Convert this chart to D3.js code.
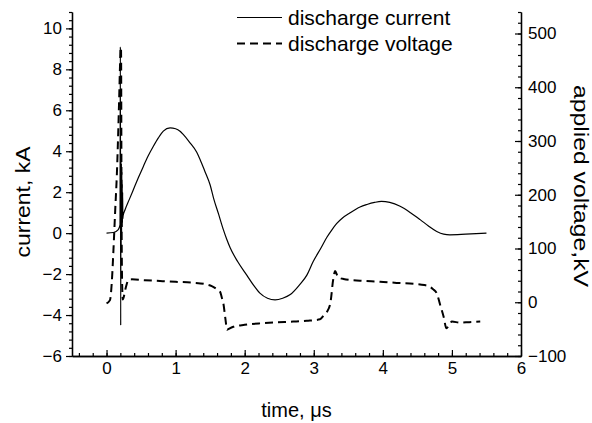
<!DOCTYPE html>
<html>
<head>
<meta charset="utf-8">
<script src="https://cdn.jsdelivr.net/npm/d3@7"></script>
<style>
  body { margin: 0; background: #fff; }
  svg { display: block; font-family: "Liberation Sans", Arial, sans-serif; }
</style>
</head>
<body>
<div id="chart"></div>
<script>
// discharge current (kA) and applied voltage (kV) against time (us)

const currentTime = [0, 0.1, 0.17, 0.195, 0.2, 0.205, 0.209, 0.212, 0.215, 0.218, 0.221, 0.224,
  0.227, 0.23, 0.233, 0.236, 0.24,
  0.268, 0.33, 0.388, 0.46, 0.533, 0.6, 0.678, 0.75, 0.822, 0.92, 1.0, 1.064, 1.11, 1.2, 1.306,
  1.354, 1.42, 1.5, 1.55, 1.62, 1.691, 1.74, 1.788, 1.9, 2.03, 2.13, 2.22, 2.33, 2.44, 2.55, 2.66,
  2.8, 2.9, 2.99, 3.1, 3.19, 3.26, 3.33, 3.42, 3.52, 3.67, 3.77, 3.88, 3.98, 4.1, 4.25, 4.4, 4.54,
  4.66, 4.78, 4.88, 4.97, 5.2, 5.5];
const currentKA = [0, 0.03, 0.17, 0.4, 9.1, -4.5, 3.6, -0.8, 3.4, 0.0, 3.0, 0.3,
  2.4, 0.5, 2.0, 0.7, 0.85,
  1.14, 1.65, 2.12, 2.7, 3.26, 3.75, 4.24, 4.65, 4.98, 5.14, 5.1, 4.98, 4.82, 4.45, 3.95,
  3.6, 3.05, 2.35, 1.7, 0.95, 0.17, -0.3, -0.7, -1.4, -2.05, -2.55, -2.93, -3.18, -3.26, -3.18, -3.0,
  -2.5, -2.05, -1.4, -0.75, -0.2, 0.15, 0.46, 0.75, 0.98, 1.28, 1.4, 1.5, 1.55, 1.5, 1.31, 1.0, 0.66,
  0.35, 0.08, -0.05, -0.08, -0.05, 0];

const voltageTime = [0, 0.05, 0.075, 0.1, 0.125, 0.15, 0.17, 0.185, 0.195, 0.205, 0.21, 0.218, 0.225,
  0.235, 0.245, 0.28, 0.32, 0.365, 0.55, 0.774, 1.0, 1.257, 1.45, 1.523, 1.6, 1.643, 1.67, 1.691,
  1.72, 1.745, 1.76, 1.836, 2.0, 2.22, 2.45, 2.7, 2.9, 3.09, 3.14, 3.19, 3.24, 3.28, 3.31, 3.35,
  3.43, 3.67, 3.96, 4.2, 4.49, 4.6, 4.68, 4.73, 4.78, 4.83, 4.88, 4.92, 4.96, 5.0, 5.12, 5.25, 5.41];
const voltageKV = [-2, 4, 35, 97, 170, 240, 320, 390, 440, 474, 470, 150, 40,
  5, 8, 28, 42, 42.6, 41, 39.5, 38, 36.4, 33, 30, 24, 19.7, 8, -2,
  -30, -51, -50, -45.5, -42, -39.3, -37.5, -36, -34.5, -31.8, -25, -18, -2, 41, 58, 47,
  43.3, 40, 38.3, 36, 34, 32, 29, 24, 16.6, -5, -26.8, -48.5, -42, -36, -38, -37, -36];

const timeTicks = [0, 1, 2, 3, 4, 5, 6];
const currentTicks = [-6, -4, -2, 0, 2, 4, 6, 8, 10];
const voltageTicks = [-100, 0, 100, 200, 300, 400, 500];
const legendLabels = ["discharge current", "discharge voltage"];

const width = 592, height = 423;
const margin = { top: 12, right: 71, bottom: 67, left: 72 };

const svg = d3.select("#chart").append("svg")
  .attr("width", width)
  .attr("height", height);

const x = d3.scaleLinear().domain([-0.5, 6]).range([margin.left, width - margin.right]);
const yI = d3.scaleLinear().domain([-6, 10.8]).range([height - margin.bottom, margin.top]);
const yV = d3.scaleLinear().domain([-100, 540]).range([height - margin.bottom, margin.top]);

const x0 = margin.left, x1 = width - margin.right, yBottom = height - margin.bottom;

// minor ticks first, so the major ones draw on top
const minorX = d3.range(-0.4, 6.0, 0.2).map(v => +v.toFixed(2));
const minorI = d3.range(-6, 10.81, 0.4).map(v => +v.toFixed(2));
const minorV = d3.range(-100, 541, 20);

svg.append("g")
  .attr("transform", `translate(0,${yBottom})`)
  .call(d3.axisBottom(x).tickValues(minorX).tickSize(-3).tickSizeOuter(0).tickFormat(""));
svg.append("g")
  .attr("transform", `translate(${x0},0)`)
  .call(d3.axisLeft(yI).tickValues(minorI).tickSize(3).tickSizeOuter(0).tickFormat(""));
svg.append("g")
  .attr("transform", `translate(${x1},0)`)
  .call(d3.axisRight(yV).tickValues(minorV).tickSize(-3).tickSizeOuter(0).tickFormat(""));

// major ticks and labels
svg.append("g")
  .attr("class", "axis")
  .attr("transform", `translate(0,${yBottom})`)
  .call(d3.axisBottom(x).tickValues(timeTicks).tickSize(-6).tickSizeOuter(0).tickPadding(6)
    .tickFormat(d3.format("d")));
svg.append("g")
  .attr("class", "axis")
  .attr("transform", `translate(${x0},0)`)
  .call(d3.axisLeft(yI).tickValues(currentTicks).tickSize(6).tickSizeOuter(0).tickPadding(4)
    .tickFormat(d3.format("d")));
svg.append("g")
  .attr("class", "axis")
  .attr("transform", `translate(${x1},0)`)
  .call(d3.axisRight(yV).tickValues(voltageTicks).tickSize(-6).tickSizeOuter(0).tickPadding(7)
    .tickFormat(d3.format("d")));

svg.selectAll(".domain").attr("stroke", "#000").attr("stroke-width", 1.3);
svg.selectAll(".tick line").attr("stroke", "#000").attr("stroke-width", 1.2);
svg.selectAll(".axis text")
  .attr("font-family", "Liberation Sans, Arial, sans-serif")
  .attr("font-size", 17)
  .attr("fill", "#000");

// the curves
const currentData = currentTime.map((t, i) => [t, currentKA[i]]);
const voltageData = voltageTime.map((t, i) => [t, voltageKV[i]]);

svg.append("path")
  .datum(voltageData)
  .attr("fill", "none")
  .attr("stroke", "#000")
  .attr("stroke-width", 2)
  .attr("stroke-dasharray", "8,5")
  .attr("d", d3.line().curve(d3.curveMonotoneX).x(d => x(d[0])).y(d => yV(d[1])));

svg.append("path")
  .datum(currentData)
  .attr("fill", "none")
  .attr("stroke", "#000")
  .attr("stroke-width", 1.2)
  .attr("stroke-linejoin", "round")
  .attr("d", d3.line().curve(d3.curveMonotoneX).x(d => x(d[0])).y(d => yI(d[1])));

// axis titles
svg.append("text")
  .attr("x", (x0 + x1) / 2)
  .attr("y", 417)
  .attr("text-anchor", "middle")
  .attr("font-size", 20)
  .text("time, \u03bcs");

svg.append("text")
  .attr("transform", "translate(30,202) rotate(-90)")
  .attr("text-anchor", "middle")
  .attr("font-size", 21)
  .attr("textLength", 111)
  .attr("lengthAdjust", "spacingAndGlyphs")
  .text("current, kA");

svg.append("text")
  .attr("transform", "translate(574,186) rotate(90)")
  .attr("text-anchor", "middle")
  .attr("font-size", 21)
  .attr("textLength", 202)
  .attr("lengthAdjust", "spacingAndGlyphs")
  .text("applied voltage,kV");

// legend
const legend = svg.append("g");
legendLabels.forEach((label, i) => {
  const ly = 17.5 + i * 26;
  legend.append("line")
    .attr("x1", 237).attr("x2", 282)
    .attr("y1", ly).attr("y2", ly)
    .attr("stroke", "#000")
    .attr("stroke-width", i === 0 ? 1.2 : 2)
    .attr("stroke-dasharray", i === 0 ? null : "8,5");
  legend.append("text")
    .attr("x", 288)
    .attr("y", ly + 7.5)
    .attr("font-size", 21)
    .text(label);
});
</script>
</body>
</html>
